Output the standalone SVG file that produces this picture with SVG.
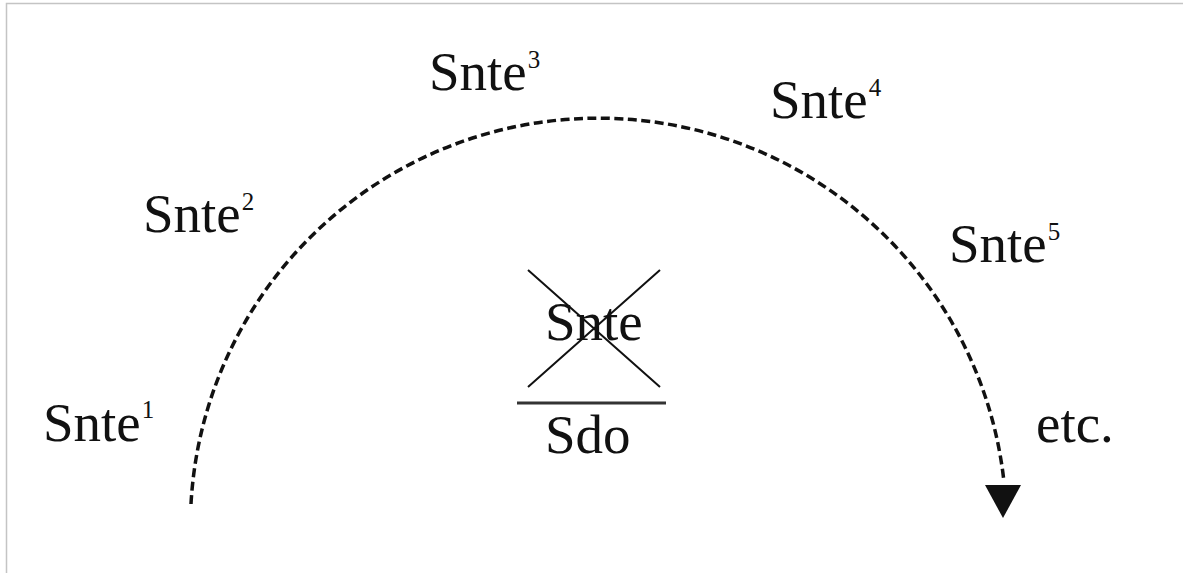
<svg xmlns="http://www.w3.org/2000/svg" width="1183" height="573" viewBox="0 0 1183 573">
<style>
.lbl{font-family:"Liberation Serif","Times New Roman",serif;font-size:55px;fill:#111}
.sup{font-size:25px}
.frame{stroke:#c4c4c4;stroke-width:1.5;fill:none}
.arc{fill:none;stroke:#111;stroke-width:3.5;stroke-dasharray:9 4.5}
.cross{stroke:#111;stroke-width:2;fill:none}
</style>
<rect width="1183" height="573" fill="#fff"/>
<path class="frame" d="M6.5,573 V3.5 H1183"/>
<g id="connectors">
<path class="arc" d="M191,504 A408,408 0 0 1 1004,482"/>
<path d="M985,485 L1021,485 L1003,518 Z" fill="#111"/>
</g>
<g id="snte1"><text class="lbl" x="43" y="441">Snte<tspan class="sup" dx="1" dy="-23">1</tspan></text></g>
<g id="snte2"><text class="lbl" x="143" y="232">Snte<tspan class="sup" dx="1" dy="-22">2</tspan></text></g>
<g id="snte3"><text class="lbl" x="429" y="90">Snte<tspan class="sup" dx="1" dy="-22">3</tspan></text></g>
<g id="snte4"><text class="lbl" x="770" y="118">Snte<tspan class="sup" dx="1" dy="-22">4</tspan></text></g>
<g id="snte5"><text class="lbl" x="949" y="262">Snte<tspan class="sup" dx="1" dy="-22">5</tspan></text></g>
<g id="center">
<text class="lbl" x="545" y="340">Snte</text>
<path class="cross" d="M528,270 L660,387 M660,270 L528,387"/>
<line x1="517" y1="403" x2="666" y2="403" stroke="#333" stroke-width="3"/>
<text class="lbl" x="545" y="453">Sdo</text>
</g>
<g id="etc"><text class="lbl" x="1036" y="442">etc.</text></g>
</svg>
